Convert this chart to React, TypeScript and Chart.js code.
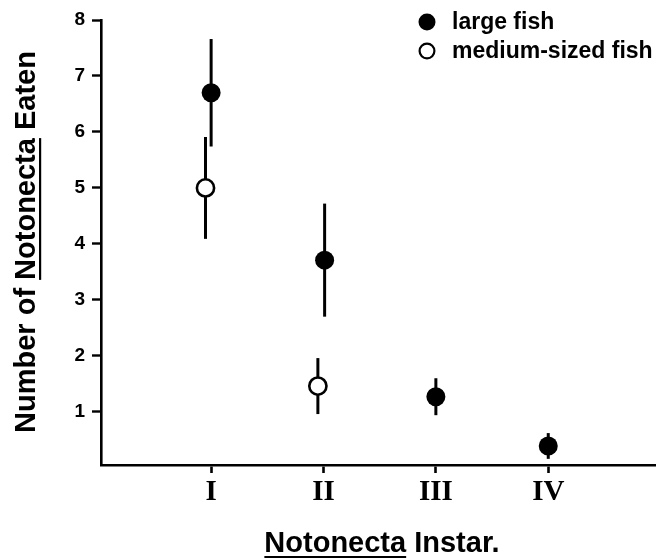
import React, { useEffect, useRef } from "react";
import { Chart, registerables } from "chart.js";

Chart.register(...registerables);

// ---- data ----
const instarTicks = [1, 2, 3, 4];
const instarLabels = ["I", "II", "III", "IV"];
const yTicks = [1, 2, 3, 4, 5, 6, 7, 8];
const largeX = [1, 2.01, 3, 4];
const largeY = [6.7, 3.71, 1.27, 0.39];
const largeErr = [0.96, 1.01, 0.33, 0.23];
const mediumX = [0.95, 1.95];
const mediumY = [5.0, 1.46];
const mediumErr = [0.91, 0.5];
const seriesLabels = ["large fish", "medium-sized fish"];
const yTitleParts = ["Number of ", "Notonecta", " Eaten"];
const xTitleParts = ["Notonecta", " Instar."];

const SANS = "'Liberation Sans', Arial, Helvetica, sans-serif";
const SERIF = "'Liberation Serif', 'Times New Roman', serif";

const errorBarPlugin = {
  id: "errorBars",
  beforeDatasetsDraw(chart: any) {
    const ctx = chart.ctx;
    const xs = chart.scales.x;
    const ys = chart.scales.y;
    ctx.save();
    ctx.strokeStyle = "#000";
    ctx.lineWidth = 3;
    ctx.lineCap = "butt";
    chart.data.datasets.forEach((ds: any) => {
      ds.data.forEach((p: any, j: number) => {
        const e = ds.errors[j];
        const px = xs.getPixelForValue(p.x);
        ctx.beginPath();
        ctx.moveTo(px, ys.getPixelForValue(p.y + e));
        ctx.lineTo(px, ys.getPixelForValue(p.y - e));
        ctx.stroke();
      });
    });
    ctx.restore();
  },
};

const decorPlugin = {
  id: "decor",
  afterDraw(chart: any) {
    const ctx = chart.ctx;
    const area = chart.chartArea;
    ctx.save();
    ctx.fillStyle = "#000";
    ctx.strokeStyle = "#000";

    // legend
    const lx = area.right - 228;
    const ly = [area.top + 2, area.top + 31];
    ctx.font = `bold 23px ${SANS}`;
    ctx.textBaseline = "middle";
    ctx.textAlign = "left";
    chart.data.datasets.forEach((ds: any, i: number) => {
      ctx.beginPath();
      if (i === 0) {
        ctx.arc(lx, ly[i], 8.5, 0, Math.PI * 2);
        ctx.fill();
      } else {
        ctx.lineWidth = 2.2;
        ctx.arc(lx, ly[i], 7.4, 0, Math.PI * 2);
        ctx.fillStyle = "#fff";
        ctx.fill();
        ctx.stroke();
        ctx.fillStyle = "#000";
      }
      ctx.fillText(ds.label, lx + 25, ly[i] + 1);
    });

    // y title
    ctx.font = `bold 29px ${SANS}`;
    const yFull = yTitleParts.join("");
    const yw = ctx.measureText(yFull).width;
    const w1 = ctx.measureText(yTitleParts[0]).width;
    const w2 = ctx.measureText(yTitleParts[1]).width;
    ctx.save();
    ctx.translate(35, 242);
    ctx.rotate(-Math.PI / 2);
    ctx.textAlign = "left";
    ctx.textBaseline = "alphabetic";
    ctx.fillText(yFull, -yw / 2, 0);
    ctx.fillRect(-yw / 2 + w1, 4, w2, 2.2);
    ctx.restore();

    // x title
    ctx.font = `bold 29px ${SANS}`;
    const xFull = xTitleParts.join("");
    const xw = ctx.measureText(xFull).width;
    const xw1 = ctx.measureText(xTitleParts[0]).width;
    const cx = 382;
    ctx.textAlign = "left";
    ctx.textBaseline = "alphabetic";
    ctx.fillText(xFull, cx - xw / 2, area.bottom + 87);
    ctx.fillRect(cx - xw / 2, area.bottom + 91, xw1, 2.2);

    ctx.restore();
  },
};

export default function App() {
  const ref = useRef<HTMLCanvasElement | null>(null);

  useEffect(() => {
    if (!ref.current) return;
    const chart = new Chart(ref.current, {
      type: "scatter",
      data: {
        datasets: [
          {
            label: seriesLabels[0],
            data: largeX.map((x, i) => ({ x, y: largeY[i] })),
            errors: largeErr,
            pointStyle: "circle",
            pointRadius: 9.5,
            pointBorderWidth: 0,
            backgroundColor: "#000",
            borderColor: "#000",
            showLine: false,
          } as any,
          {
            label: seriesLabels[1],
            data: mediumX.map((x, i) => ({ x, y: mediumY[i] })),
            errors: mediumErr,
            pointStyle: "circle",
            pointRadius: 8.6,
            pointBorderWidth: 2.6,
            backgroundColor: "#fff",
            borderColor: "#000",
            showLine: false,
          } as any,
        ],
      },
      options: {
        responsive: false,
        animation: false,
        devicePixelRatio: 1,
        layout: { autoPadding: false, padding: { left: 0, top: 20, right: 2, bottom: 0 } },
        plugins: {
          legend: { display: false },
          tooltip: { enabled: false },
        },
        scales: {
          x: {
            type: "linear",
            min: 0.02,
            max: 4.95,
            afterFit: (s: any) => {
              s.height = 93;
              s.paddingLeft = 0;
              s.paddingRight = 0;
            },
            afterBuildTicks: (s: any) => {
              s.ticks = instarTicks.map((v) => ({ value: v }));
            },
            border: { display: true, color: "#000", width: 2.6 },
            grid: {
              display: true,
              drawOnChartArea: false,
              drawTicks: true,
              tickLength: 8,
              tickColor: "#000",
              tickWidth: 2.6,
            },
            ticks: {
              color: "#000",
              padding: 2,
              font: { family: SERIF, size: 29, weight: "bold" },
              callback: (v: any) => {
                const i = instarTicks.indexOf(Number(v));
                return i >= 0 ? instarLabels[i] : "";
              },
            },
          },
          y: {
            type: "linear",
            min: 0.05,
            max: 8,
            afterFit: (s: any) => {
              s.width = 101;
              s.paddingTop = 0;
              s.paddingBottom = 0;
            },
            afterBuildTicks: (s: any) => {
              s.ticks = yTicks.map((v) => ({ value: v }));
            },
            border: { display: true, color: "#000", width: 2.6 },
            grid: {
              display: true,
              drawOnChartArea: false,
              drawTicks: true,
              tickLength: 9,
              tickColor: "#000",
              tickWidth: 2.4,
            },
            ticks: {
              color: "#000",
              padding: 7,
              font: { family: SANS, size: 19, weight: "bold" },
              callback: (v: any) => String(v),
            },
          },
        },
      },
      plugins: [errorBarPlugin, decorPlugin],
    } as any);
    return () => chart.destroy();
  }, []);

  return (
    <div style={{ position: "fixed", left: 0, top: 0, width: 657, height: 558, background: "#fff" }}>
      <canvas ref={ref} width={657} height={558} />
    </div>
  );
}
